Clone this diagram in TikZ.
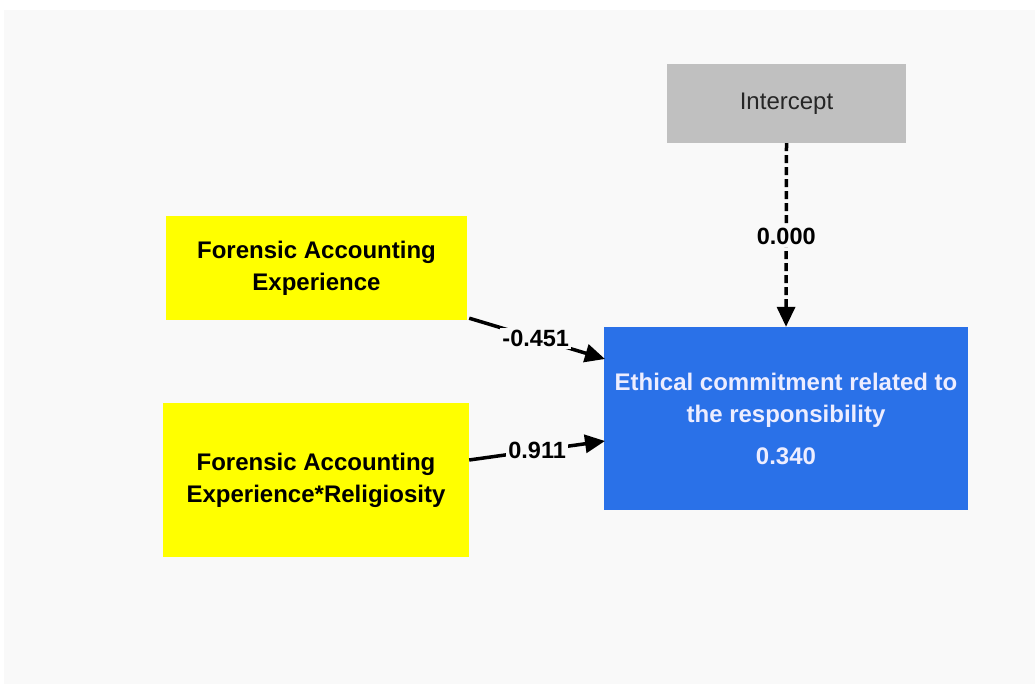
\documentclass[tikz,border=0pt]{standalone}
\usepackage{fontspec}
\setmainfont{Liberation Sans}
\usetikzlibrary{arrows.meta}
\definecolor{panel}{HTML}{F9F9F9}
\definecolor{latgray}{HTML}{C0C0C0}
\definecolor{indyellow}{HTML}{FFFF00}
\definecolor{depblue}{HTML}{2A71E8}
\begin{document}
\begin{tikzpicture}[x=1pt,y=-1pt,
  box/.style={draw=none,inner sep=0pt,align=center,font=\fontsize{24}{32}\selectfont\bfseries},
  path/.style={line width=3.5pt,-{Triangle[length=20pt,width=18pt]}},
  coef/.style={fill=panel,inner sep=2pt,font=\fontsize{23.5}{28}\selectfont\bfseries}]
  % canvas
  \fill[white] (0,0) rectangle (1035,684);
  \fill[panel] (4,10) rectangle (1035,684);
  \useasboundingbox (0,0) rectangle (1035,684);
  % constructs
  \node[box,fill=latgray,minimum width=239pt,minimum height=79pt,font=\fontsize{24}{30}\selectfont,text=black!85]
    (icpt) at (786.5,103.5) {Intercept};
  \node[box,fill=indyellow,minimum width=301pt,minimum height=104pt]
    (fae) at (316.5,268) {Forensic Accounting\\Experience};
  \node[box,fill=indyellow,minimum width=306pt,minimum height=154pt]
    (faer) at (316,480) {Forensic Accounting\\Experience*Religiosity};
  \node[box,fill=depblue,minimum width=364pt,minimum height=183pt,text=white!93!blue]
    (ethic) at (786,418.5) {Ethical commitment related to\\the responsibility\\[10pt]0.340};
  % paths
  \coordinate (faeEnd) at (605,359);
  \coordinate (faerEnd) at (605,441);
  \draw[path,dash pattern=on 8pt off 4pt] (icpt.south) -- node[coef,pos=0.51]{0.000} (ethic.north);
  \draw[path] (fae.south east) ++(2,-2) coordinate (faeStart) -- node[coef,pos=0.49]{-0.451} (faeEnd);
  \draw[path] (faer.east) ++(0,-20) coordinate (faerStart) -- node[coef,pos=0.5]{0.911} (faerEnd);
\end{tikzpicture}
\end{document}
